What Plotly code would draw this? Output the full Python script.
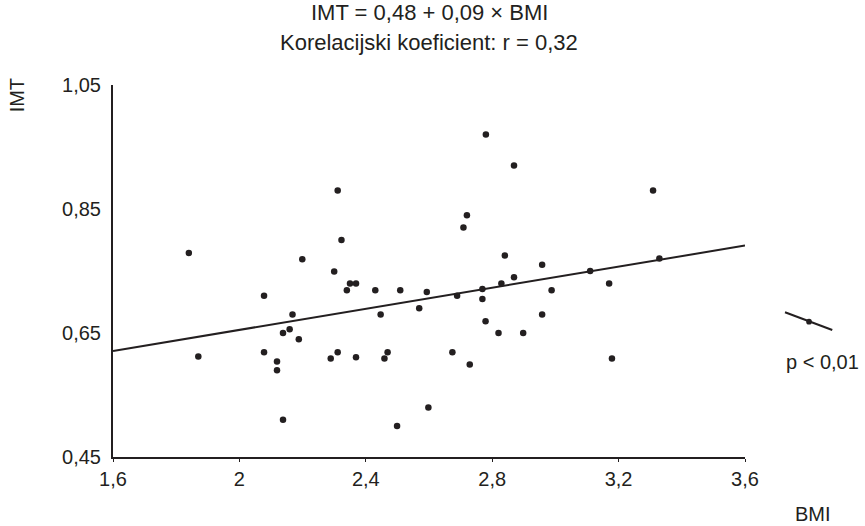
import plotly.graph_objects as go

# Data
bmi = [1.840, 2.199, 2.780, 2.869, 2.311, 2.720, 2.709, 2.323, 2.300, 2.840,
       2.869, 3.309, 2.958, 3.110, 3.329, 2.078, 2.168, 2.138, 2.159, 2.188,
       1.870, 2.078, 2.119, 2.119, 2.138, 2.340, 2.350, 2.369, 2.430, 2.509,
       2.593, 2.447, 2.569, 2.689, 2.769, 2.769, 2.829, 2.779, 2.820, 2.289,
       2.311, 2.369, 2.459, 2.469, 2.674, 2.729, 2.598, 2.499, 2.988, 3.170,
       2.958, 2.898, 3.179]
imt = [0.779, 0.769, 0.970, 0.920, 0.880, 0.840, 0.820, 0.800, 0.749, 0.775,
       0.740, 0.880, 0.760, 0.750, 0.770, 0.710, 0.680, 0.650, 0.656, 0.640,
       0.612, 0.619, 0.604, 0.590, 0.510, 0.719, 0.730, 0.730, 0.719, 0.719,
       0.716, 0.680, 0.690, 0.710, 0.721, 0.705, 0.730, 0.669, 0.650, 0.609,
       0.619, 0.611, 0.609, 0.619, 0.619, 0.599, 0.530, 0.500, 0.719, 0.730,
       0.680, 0.650, 0.609]

fit_intercept = 0.485
fit_slope = 0.085
fit_x = [1.6, 3.6]
fit_y = [fit_intercept + fit_slope * v for v in fit_x]

x_ticks = [1.6, 2.0, 2.4, 2.8, 3.2, 3.6]
x_ticklabels = ["1,6", "2", "2,4", "2,8", "3,2", "3,6"]
y_ticks = [0.45, 0.65, 0.85, 1.05]
y_ticklabels = ["0,45", "0,65", "0,85", "1,05"]

title_1 = "IMT = 0,48 + 0,09 × BMI"
title_2 = "Korelacijski koeficient: r = 0,32"
legend_text = "p < 0,01"

INK = "#231f20"
FONT = "Liberation Sans, Arial, sans-serif"

fig = go.Figure()
fig.add_trace(go.Scatter(x=fit_x, y=fit_y, mode="lines",
                         line=dict(color=INK, width=2), showlegend=False,
                         hoverinfo="skip"))
fig.add_trace(go.Scatter(x=bmi, y=imt, mode="markers",
                         marker=dict(color=INK, size=6.5), showlegend=False))

fig.update_layout(
    width=865, height=526,
    margin=dict(l=113, r=120, t=85, b=69),
    paper_bgcolor="white", plot_bgcolor="white",
    font=dict(family=FONT, size=20, color=INK),
    xaxis=dict(range=[1.6, 3.6], tickvals=x_ticks, ticktext=x_ticklabels,
               showgrid=False, zeroline=False, showline=True,
               linecolor=INK, linewidth=2, ticks="outside", ticklen=3,
               tickcolor=INK, tickwidth=1,
               tickfont=dict(family=FONT, size=20, color=INK)),
    yaxis=dict(range=[0.45, 1.05], tickvals=y_ticks, ticktext=y_ticklabels,
               showgrid=False, zeroline=False, showline=True,
               linecolor=INK, linewidth=2, ticks="",
               ticklabelstandoff=6,
               tickfont=dict(family=FONT, size=20, color=INK)),
)

annos = [
    dict(text=title_1, x=0.5, y=1.196, font=dict(family=FONT, size=22)),
    dict(text=title_2, x=0.5, y=1.113, font=dict(family=FONT, size=22)),
    dict(text="IMT", x=-0.152, y=0.972, textangle=-90),
    dict(text="BMI", x=1.1076, y=-0.152),
    dict(text=legend_text, x=1.122, y=0.256),
]
for a in annos:
    a.setdefault("font", dict(family=FONT, size=20, color=INK))
    a["font"].setdefault("color", INK)
    fig.add_annotation(xref="paper", yref="paper", showarrow=False,
                       xanchor="center", yanchor="middle", **a)

# legend symbol (slanted line with a dot)
fig.add_shape(type="line", xref="paper", yref="paper",
              x0=1.0633, y0=0.389, x1=1.1381, y1=0.3414,
              line=dict(color=INK, width=2))
fig.add_shape(type="circle", xref="paper", yref="paper",
              x0=1.1013 - 0.0045, x1=1.1013 + 0.0045,
              y0=0.3637 - 0.0077, y1=0.3637 + 0.0077,
              fillcolor=INK, line=dict(color=INK, width=0))

# remove the page's default body margin so the figure sits at the window corner
fig.write_html("out.html",
               config={"displayModeBar": False},
               post_script="document.body.style.margin='0';"
                           "document.body.style.overflow='hidden';")
